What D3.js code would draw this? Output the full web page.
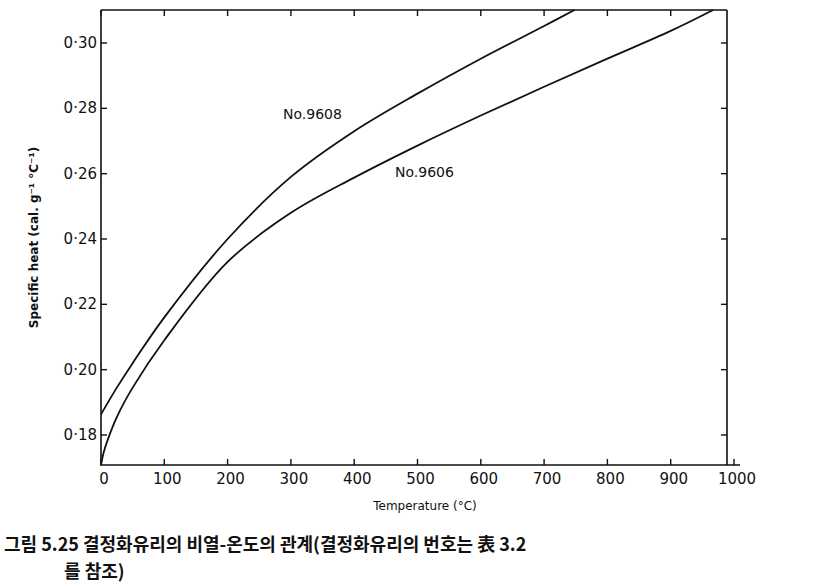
<!DOCTYPE html><html><head><meta charset="utf-8"><script src="https://cdn.jsdelivr.net/npm/d3@7"></script>
<style>body{margin:0;background:#fff}</style></head><body><svg width="818" height="586"></svg><script>
const xTicks=[0,100,200,300,400,500,600,700,800,900,1000];
const yTicks=[0.18,0.20,0.22,0.24,0.26,0.28,0.30];
const t9608=[0,25,50,100,200,300,400,500,600,700,748];
const v9608=[0.1863,0.1945,0.2020,0.2160,0.2400,0.2590,0.2730,0.2845,0.2952,0.3052,0.3101];
const t9606=[0,4,10,25,50,100,200,300,400,500,600,700,800,900,967];
const v9606=[0.1708,0.1745,0.1782,0.1855,0.1945,0.2090,0.2330,0.2480,0.2588,0.2686,0.2778,0.2866,0.2952,0.3037,0.3101];
const svg=d3.select("svg");
const x=d3.scaleLinear().domain([0,1000]).range([101,734]);
const y=d3.scaleLinear().domain([0.18,0.30]).range([435,43]);
const L=101,R=727,T=10,B=465;
svg.append("path").attr("d",`M${L},${T}V${B}H${740}M${R},${T}V${B}M${L},${T}H${R}`).attr("fill","none").attr("stroke","#111").attr("stroke-width",1.6);
const g=svg.append("g").style("font-family","DejaVu Sans").style("font-size","15px").attr("fill","#111");
xTicks.forEach(t=>{svg.append("line").attr("x1",x(t)).attr("x2",x(t)).attr("y1",B).attr("y2",B-6).attr("stroke","#111").attr("stroke-width",1.4);
 if(x(t)<R) svg.append("line").attr("x1",x(t)).attr("x2",x(t)).attr("y1",T).attr("y2",T+6).attr("stroke","#111").attr("stroke-width",1.4);
 g.append("text").attr("x",x(t)+3).attr("y",B+19).attr("text-anchor","middle").text(t);});
yTicks.forEach(t=>{[L,R].forEach((xx,i)=>svg.append("line").attr("x1",xx).attr("x2",i?xx-6:xx+6).attr("y1",y(t)).attr("y2",y(t)).attr("stroke","#111").attr("stroke-width",1.4));
 g.append("text").attr("x",L-4).attr("y",y(t)+5).attr("text-anchor","end").text(t.toFixed(2).replace(".","·"));});
const line=d3.line().curve(d3.curveCatmullRom.alpha(0.5));
svg.append("path").attr("d",line(t9608.map((t,i)=>[x(t),y(v9608[i])]))).attr("fill","none").attr("stroke","#111").attr("stroke-width",1.8);
svg.append("path").attr("d",line(t9606.map((t,i)=>[x(t),y(v9606[i])]))).attr("fill","none").attr("stroke","#111").attr("stroke-width",1.8);
g.append("text").attr("x",283).attr("y",119).style("font-size","14px").text("No.9608");
g.append("text").attr("x",395).attr("y",177).style("font-size","14px").text("No.9606");
g.append("text").attr("x",425).attr("y",510).attr("text-anchor","middle").style("font-size","12px").text("Temperature (°C)");
g.append("text").attr("transform",`translate(38,${(T+B)/2})rotate(-90)`).attr("text-anchor","middle").style("font-size","12px").style("font-weight","bold").text("Specific heat (cal. g⁻¹ °C⁻¹)");
const c=svg.append("g").style("font-family","Noto Sans CJK KR").style("font-size","18px").attr("fill","#111");
c.append("text").attr("x",4).attr("y",551).style("font-weight","bold").text("그림 5.25  결정화유리의 비열-온도의 관계(결정화유리의 번호는 表 3.2");
c.append("text").attr("x",64).attr("y",578).style("font-weight","bold").text("를 참조)");
</script></body></html>
